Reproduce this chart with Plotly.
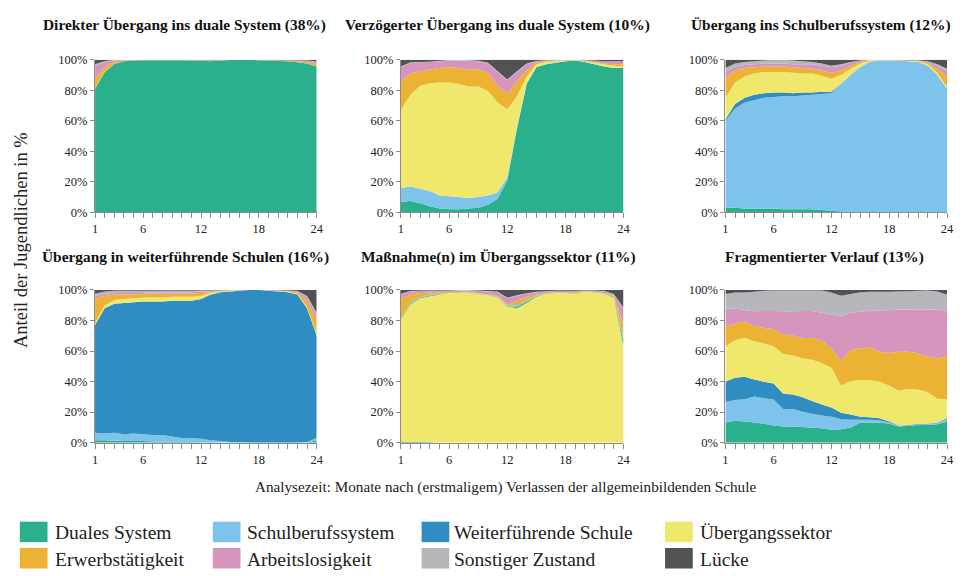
import plotly.graph_objects as go

W, H = 962, 576
FONT = "Liberation Serif, Times New Roman, serif"

months = list(range(1, 25))
categories = ["Duales System", "Schulberufssystem", "Weiterführende Schule", "Übergangssektor",
              "Erwerbstätigkeit", "Arbeitslosigkeit", "Sonstiger Zustand", "Lücke"]
colors = ["#2BB08E", "#7DC3EB", "#2F8DC1", "#F0E86C", "#ECB234", "#D595BD", "#B6B7BB", "#525254"]
panel_titles = ["Direkter Übergang ins duale System (38%)",
                "Verzögerter Übergang ins duale System (10%)",
                "Übergang ins Schulberufssystem (12%)",
                "Übergang in weiterführende Schulen (16%)",
                "Maßnahme(n) im Übergangssektor (11%)",
                "Fragmentierter Verlauf (13%)"]
x_tick_vals = [1, 6, 12, 18, 24]
x_tick_text = ["1", "6", "12", "18", "24"]
y_tick_vals = [0, 20, 40, 60, 80, 100]
y_tick_text = ["0%", "20%", "40%", "60%", "80%", "100%"]
y_title = "Anteil der Jugendlichen in %"
x_title = "Analysezeit: Monate nach (erstmaligem) Verlassen der allgemeinbildenden Schule"

# Panel 1: Direkter Übergang ins duale System
p1_dual = [81, 92, 97, 99, 99.5, 99.6, 99.7, 99.7, 99.6, 99.6, 99.5, 99.5, 99, 99.5, 99.8, 99.8, 99.8, 99.7, 99.5, 99.2, 99, 98.5, 97.5, 95.5]
p1_schul = [0, 0, 0, 0, 0, 0, 0, 0, 0, 0, 0, 0, 0, 0, 0, 0, 0, 0, 0, 0, 0, 0, 0, 0]
p1_weiter = [0, 0, 0, 0, 0, 0, 0, 0, 0, 0, 0, 0, 0, 0, 0, 0, 0, 0, 0, 0, 0, 0, 0, 0]
p1_ueber = [0.3, 0.2, 0.1, 0, 0, 0, 0, 0, 0, 0, 0, 0, 0, 0, 0, 0, 0, 0, 0, 0, 0, 0, 0, 0]
p1_erwerb = [6.7, 3, 1.4, 0.4, 0.2, 0.1, 0.1, 0.1, 0.1, 0.1, 0.1, 0.1, 0.3, 0.1, 0, 0, 0, 0.1, 0.1, 0.2, 0.3, 0.5, 0.8, 1.5]
p1_arbeit = [8, 3.3, 1.1, 0.4, 0.2, 0.2, 0.1, 0.1, 0.2, 0.2, 0.2, 0.2, 0.4, 0.2, 0.1, 0.1, 0.1, 0.1, 0.2, 0.3, 0.4, 0.6, 1, 1.5]
p1_sonst = [1, 0.5, 0.2, 0.1, 0, 0, 0, 0, 0, 0, 0, 0, 0, 0, 0, 0, 0, 0, 0, 0, 0, 0.1, 0.2, 0.3]
p1_luecke = [3, 1, 0.1, 0.1, 0.1, 0.1, 0.1, 0.1, 0.1, 0.1, 0.2, 0.2, 0.3, 0.2, 0.1, 0.1, 0.1, 0.1, 0.2, 0.3, 0.3, 0.4, 0.5, 1.2]

# Panel 2: Verzögerter Übergang ins duale System
p2_dual = [7, 7.5, 6, 4, 2.5, 2, 2, 2.5, 3, 5, 9, 21, 55, 84, 95, 97, 98, 99, 99.5, 98.5, 97, 95.5, 94.5, 94.5]
p2_schul = [9, 9.5, 9.5, 10, 8.5, 8.5, 8, 7, 7, 6, 4, 2, 1, 0.5, 0, 0, 0, 0, 0, 0, 0, 0, 0, 0]
p2_weiter = [0, 0, 0, 0, 0, 0, 0, 0, 0, 0, 0, 0, 0, 0, 0, 0, 0, 0, 0, 0, 0, 0, 0, 0]
p2_ueber = [51, 60, 67.5, 70.5, 74, 74.5, 74, 73, 72.5, 68.5, 59, 44.5, 20, 4.5, 2, 1.5, 1, 0.5, 0.2, 0.5, 1, 1.5, 1.5, 1]
p2_erwerb = [19, 14, 9.5, 9, 9.5, 10, 10.5, 11, 11, 12, 11, 10.5, 10, 4, 1, 0.5, 0.3, 0.1, 0.1, 0.2, 0.5, 0.5, 1, 1.5]
p2_arbeit = [9, 7, 5.8, 5, 4.5, 4.5, 5, 5.8, 5.5, 6, 9, 8.5, 6, 4, 1, 0.5, 0.4, 0.2, 0.2, 0.6, 1, 1.5, 2, 2]
p2_sonst = [0.5, 0.3, 0.2, 0.2, 0.3, 0.3, 0.5, 0.5, 0.3, 0.5, 0.5, 0.5, 0.5, 0.5, 0.2, 0.2, 0.1, 0.1, 0, 0, 0, 0, 0, 0]
p2_luecke = [4.5, 1.7, 1.5, 1.3, 0.7, 0.2, 0, 0.2, 0.7, 2, 7.5, 13, 7.5, 2.5, 0.8, 0.3, 0.2, 0.1, 0, 0.2, 0.5, 1, 1, 1]

# Panel 3: Übergang ins Schulberufssystem
p3_dual = [3, 3, 2.5, 2.5, 2.5, 2.5, 2, 2, 2, 2, 1.5, 1, 0.5, 0.3, 0.2, 0, 0, 0, 0, 0, 0, 0, 0, 0]
p3_schul = [57, 65, 69.5, 71, 72.5, 73, 74, 74, 74.5, 75, 76, 77, 83.5, 89.7, 94.8, 98.5, 99.7, 99.5, 99.3, 99, 98.5, 96, 90, 81]
p3_weiter = [1, 3, 3, 3.5, 3, 3, 2.5, 2, 2, 1.5, 1.5, 1, 0.3, 0.2, 0.2, 0.1, 0, 0, 0, 0, 0, 0, 0, 0]
p3_ueber = [14, 14, 14, 14, 14, 13.5, 13.5, 13.5, 12.5, 12.5, 10.5, 8.5, 5.7, 3.8, 2.3, 0.9, 0.3, 0.2, 0.2, 0.3, 0.5, 1, 1.5, 1]
p3_erwerb = [13, 8, 5.5, 4, 3.5, 3.5, 3.5, 3.5, 3.5, 3, 3.5, 4, 3, 2, 1, 0.2, 0, 0.1, 0.2, 0.2, 0.3, 1, 2.5, 7]
p3_arbeit = [4.5, 2.5, 2, 2, 2, 2, 2, 2, 2.5, 3, 3, 3.5, 3, 2, 0.8, 0.1, 0, 0.1, 0.1, 0.2, 0.3, 0.8, 2, 4]
p3_sonst = [2, 2, 2, 2, 2, 2.3, 2.5, 2.5, 2, 1.5, 1.5, 1, 1, 0.5, 0.2, 0.1, 0, 0, 0, 0, 0.1, 0.2, 1, 1]
p3_luecke = [5.5, 2.5, 1.5, 1, 0.5, 0.2, 0, 0.5, 1, 1.5, 2.5, 4, 3, 1.5, 0.5, 0.1, 0, 0.1, 0.2, 0.3, 0.3, 1, 3, 6]

# Panel 4: Übergang in weiterführende Schulen
p4_dual = [1.5, 1.5, 1.3, 1, 1, 1, 0.8, 0.8, 0.5, 0.5, 0.5, 0.3, 0.2, 0, 0, 0, 0, 0, 0, 0, 0, 0, 0, 1.5]
p4_schul = [5, 4.5, 5.2, 4.5, 5, 4.5, 4.2, 4.2, 3.5, 2.5, 2.5, 2.2, 1.3, 1, 0.5, 0.2, 0, 0, 0, 0, 0, 0, 0.5, 1.5]
p4_weiter = [70.5, 82, 84.5, 86, 86, 87, 87.5, 87.5, 89, 90, 90, 91.5, 95.5, 97.5, 98.5, 99.3, 99.8, 100, 99.5, 99, 98.5, 97, 87.5, 67]
p4_ueber = [1, 2, 2.5, 2.5, 2.5, 2.5, 2.5, 2.5, 2.5, 2.5, 2.5, 2, 1, 0.5, 0.3, 0.2, 0, 0, 0.1, 0.2, 0.3, 0.5, 1, 1]
p4_erwerb = [16.5, 6, 3.5, 3, 2.5, 2.5, 2.5, 2.5, 2, 2, 2, 2, 0.5, 0.3, 0.2, 0.1, 0, 0, 0.1, 0.2, 0.3, 1, 4, 9]
p4_arbeit = [1.5, 1.5, 1, 1, 1, 0.5, 1, 1, 1, 1, 1, 1, 0.5, 0.2, 0.2, 0.1, 0, 0, 0.1, 0.2, 0.3, 0.5, 2, 4]
p4_sonst = [1.5, 1.5, 1.5, 1.5, 1.5, 1.5, 1, 1, 1, 1, 1, 0.7, 0.7, 0.3, 0.2, 0.1, 0, 0, 0.1, 0.2, 0.3, 0.3, 1, 1]
p4_luecke = [2.5, 1, 0.5, 0.5, 0.5, 0.5, 0.5, 0.5, 0.5, 0.5, 0.5, 0.3, 0.3, 0.2, 0.1, 0, 0, 0, 0.1, 0.2, 0.3, 0.7, 4, 15]

# Panel 5: Maßnahme(n) im Übergangssektor
p5_dual = [0.5, 0.5, 0.5, 0.5, 0.3, 0.2, 0.2, 0.1, 0.1, 0.2, 0.3, 0.3, 1, 0.7, 0.5, 0.2, 0.1, 0.1, 0.2, 0.1, 0.1, 0.2, 0.5, 3]
p5_schul = [0.5, 0.5, 0.5, 0.5, 0.3, 0.2, 0.1, 0.1, 0.1, 0.1, 0.2, 0.5, 1, 0.8, 0.3, 0.1, 0.1, 0.1, 0.1, 0.1, 0.1, 0.1, 0.3, 3]
p5_weiter = [0.5, 0.5, 0.5, 0.3, 0, 0, 0, 0, 0, 0, 0, 0, 0, 0, 0, 0, 0, 0, 0, 0, 0, 0, 0, 0]
p5_ueber = [80.5, 90.5, 94, 95.7, 97, 98, 98, 98.5, 97.5, 96.5, 95, 89, 88, 91.5, 95.5, 97.5, 98, 98, 97.5, 99, 98.5, 97.5, 95, 63]
p5_erwerb = [12.5, 5.5, 2.5, 1.5, 0.9, 0.2, 0.3, 0.1, 0.3, 0.2, 0.5, 0.7, 3, 2.5, 0.7, 0.2, 0.3, 0.3, 0.7, 0, 0.1, 0.2, 0.7, 8]
p5_arbeit = [3, 2, 1.3, 1.2, 1, 0.9, 1.1, 0.9, 1.5, 2, 2.5, 4, 3, 2, 1.5, 1, 0.8, 0.8, 0.8, 0.3, 0.7, 1, 0.5, 11]
p5_sonst = [0.5, 0.3, 0.2, 0.2, 0.2, 0.2, 0.2, 0.2, 0.2, 0.3, 0.3, 0.5, 0.5, 0.3, 0.3, 0.2, 0.2, 0.2, 0.2, 0.2, 0.2, 0.3, 0.3, 0.5]
p5_luecke = [2.5, 0.7, 0.5, 0.3, 0.3, 0.3, 0.1, 0.1, 0.3, 0.7, 1.2, 5, 3.5, 2.2, 1.2, 0.8, 0.5, 0.5, 0.5, 0.3, 0.3, 0.7, 2.7, 11.5]

# Panel 6: Fragmentierter Verlauf
p6_dual = [13.2, 14.3, 13.8, 13.2, 12.3, 11.3, 10.6, 10.6, 10.2, 9.8, 9.4, 8.5, 8.7, 10, 13.2, 13.2, 13.2, 12.3, 10.6, 11, 11.5, 11.5, 12, 13.8]
p6_schul = [13.4, 13.7, 14.7, 17, 16.7, 17, 11.4, 11.4, 10, 9.2, 8.3, 8.5, 6.6, 5, 1.8, 1.8, 1.3, 0.9, 0.4, 0.3, 0.5, 0.5, 0.8, 1.5]
p6_weiter = [13.4, 14.5, 14.7, 11.1, 10.8, 10.4, 10, 9.5, 9.6, 8.2, 7.3, 6, 4.3, 3.5, 2, 1.6, 1.5, 0.6, 0.3, 0.2, 0.3, 0.3, 0.4, 0.7]
p6_ueber = [23.2, 24.5, 25.5, 25.1, 25.1, 24.5, 26, 25.5, 25.5, 27.1, 27.1, 26, 17.6, 21.9, 24, 24.3, 24, 23.4, 22.7, 23.6, 22.4, 20.7, 15.5, 12.5]
p6_erwerb = [13, 11.1, 10.7, 10.2, 10.2, 11.3, 12.9, 13.2, 13.2, 14.2, 14.9, 12.7, 16.4, 20.2, 20.7, 21.4, 19.6, 21.5, 25.6, 24.5, 23.8, 23.4, 26.6, 27.9]
p6_arbeit = [11.7, 9.8, 7.4, 9.4, 11.1, 11.7, 15.1, 15.8, 17.7, 17.7, 18.1, 22.3, 29, 24.5, 24, 24.1, 27, 28.1, 27.6, 27.6, 28.3, 30.8, 31.9, 30.2]
p6_sonst = [9.5, 10.4, 11.5, 12.9, 13.2, 13.4, 13.6, 13.6, 13.4, 13.4, 14.5, 14.3, 13.6, 12.3, 12.8, 12.5, 12.3, 12.1, 11.8, 12, 12.4, 12.4, 11.8, 10.2]
p6_luecke = [2.6, 1.7, 1.7, 1.1, 0.6, 0.4, 0.4, 0.4, 0.4, 0.4, 0.4, 1.7, 3.8, 2.6, 1.5, 1.1, 1.1, 1.1, 1, 0.8, 0.6, 0.4, 1, 3.2]

panels = [
    [p1_dual, p1_schul, p1_weiter, p1_ueber, p1_erwerb, p1_arbeit, p1_sonst, p1_luecke],
    [p2_dual, p2_schul, p2_weiter, p2_ueber, p2_erwerb, p2_arbeit, p2_sonst, p2_luecke],
    [p3_dual, p3_schul, p3_weiter, p3_ueber, p3_erwerb, p3_arbeit, p3_sonst, p3_luecke],
    [p4_dual, p4_schul, p4_weiter, p4_ueber, p4_erwerb, p4_arbeit, p4_sonst, p4_luecke],
    [p5_dual, p5_schul, p5_weiter, p5_ueber, p5_erwerb, p5_arbeit, p5_sonst, p5_luecke],
    [p6_dual, p6_schul, p6_weiter, p6_ueber, p6_erwerb, p6_arbeit, p6_sonst, p6_luecke],
]
# stacking order (bottom to top) as drawn in each panel
stack_orders = [
    [0, 1, 2, 3, 4, 5, 6, 7],
    [0, 1, 2, 3, 4, 5, 6, 7],
    [0, 1, 2, 3, 4, 5, 6, 7],
    [0, 1, 2, 3, 4, 5, 6, 7],
    [2, 3, 0, 1, 4, 5, 6, 7],
    [0, 1, 2, 3, 4, 5, 6, 7],
]

# ---- layout geometry (pixels) ----
col_px = [(93, 317), (402, 627), (730, 954)]
row_px = [(54, 210.5), (290, 446.5)]
title_x_px = [183, 500, 827, 184, 501, 830]
title_y_px = [18, 256]

fig = go.Figure()
layout = dict(
    width=W, height=H,
    margin=dict(l=0, r=0, t=0, b=0),
    paper_bgcolor="white", plot_bgcolor="white",
    showlegend=False,
    font=dict(family=FONT, size=13, color="#222222"),
)
annotations = []
shapes = []

for i in range(6):
    r, c = divmod(i, 3)
    ax = "" if i == 0 else str(i + 1)
    data = panels[i]
    for k, ci in enumerate(stack_orders[i]):
        fig.add_trace(go.Scatter(
            x=months, y=data[ci], name=categories[ci],
            xaxis="x" + ax, yaxis="y" + ax,
            stackgroup="g%d" % i, groupnorm="percent" if k == 0 else None,
            mode="none", fillcolor=colors[ci], line=dict(width=0),
            hoverinfo="skip",
        ))
    x0, x1 = col_px[c]
    yt, yb = row_px[r]
    layout["xaxis" + ax] = dict(
        domain=[x0 / W, x1 / W], range=[1, 24], anchor="y" + ax,
        tickvals=x_tick_vals, ticktext=x_tick_text,
        ticks="outside", ticklen=5, tickcolor="#8c8c8c", tickwidth=1,
        minor=dict(tickmode="linear", tick0=1, dtick=1, ticks="outside", ticklen=5,
                   tickcolor="#8c8c8c", tickwidth=1),
        showline=True, linecolor="#8c8c8c", linewidth=1,
        showgrid=False, zeroline=False, fixedrange=True,
        tickfont=dict(family=FONT, size=12.5, color="#222222"),
    )
    layout["yaxis" + ax] = dict(
        domain=[1 - yb / H, 1 - yt / H], range=[0, 100], anchor="x" + ax,
        tickvals=y_tick_vals, ticktext=y_tick_text,
        ticks="outside", ticklen=4, tickcolor="#8c8c8c", tickwidth=1,
        showline=True, linecolor="#8c8c8c", linewidth=1,
        showgrid=False, zeroline=False, fixedrange=True,
        tickfont=dict(family=FONT, size=12.5, color="#222222"),
    )
    annotations.append(dict(
        text="<b>%s</b>" % panel_titles[i], x=title_x_px[i] / W, y=1 - title_y_px[r] / H,
        xref="paper", yref="paper", xanchor="center", yanchor="middle", showarrow=False,
        font=dict(family=FONT, size=15.4, color="#111111"),
    ))

annotations.append(dict(
    text=y_title, x=18 / W, y=1 - 239 / H, xref="paper", yref="paper",
    xanchor="center", yanchor="middle", textangle=-90, showarrow=False,
    font=dict(family=FONT, size=18.5, color="#222222"),
))
annotations.append(dict(
    text=x_title, x=508 / W, y=1 - 492 / H, xref="paper", yref="paper",
    xanchor="center", yanchor="middle", showarrow=False,
    font=dict(family=FONT, size=15.2, color="#222222"),
))

# ---- custom legend (4 columns x 2 rows) ----
leg_sq_x = [17, 212, 423, 669]
leg_sq_w = 28
leg_txt_x = [51, 245, 454, 702]
leg_row_y = [538, 565]
for j, name in enumerate(categories):
    rr, cc = divmod(j, 4)
    yc = leg_row_y[rr]
    shapes.append(dict(
        type="rect", xref="paper", yref="paper",
        x0=leg_sq_x[cc] / W, x1=(leg_sq_x[cc] + leg_sq_w) / W,
        y0=1 - (yc + 10.5) / H, y1=1 - (yc - 10.5) / H,
        fillcolor=colors[j], line=dict(width=0),
    ))
    annotations.append(dict(
        text=name, x=leg_txt_x[cc] / W, y=1 - (yc + 1) / H, xref="paper", yref="paper",
        xanchor="left", yanchor="middle", showarrow=False,
        font=dict(family=FONT, size=19.5, color="#222222"),
    ))

layout["annotations"] = annotations
layout["shapes"] = shapes
fig.update_layout(**layout)
fig.write_html(
    "out.html",
    config={"displayModeBar": False},
    post_script="document.body.style.margin='0';document.body.style.padding='0';"
                "document.documentElement.style.overflow='hidden';",
)
